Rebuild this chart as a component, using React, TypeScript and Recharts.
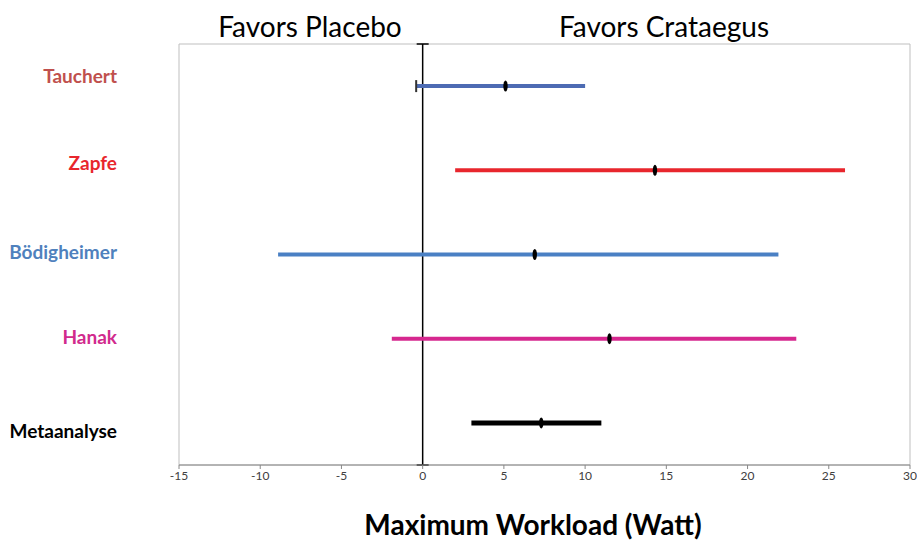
import {
  ScatterChart,
  Scatter,
  XAxis,
  YAxis,
  ReferenceLine,
  ReferenceArea,
} from 'recharts'

const studies = ['Tauchert', 'Zapfe', 'Bödigheimer', 'Hanak', 'Metaanalyse']
const lower = [-0.4, 2.0, -8.9, -1.9, 3.0]
const estimate = [5.1, 14.3, 6.9, 11.5, 7.3]
const upper = [10.0, 26.0, 21.9, 23.0, 11.0]
const xTicks = [-15, -10, -5, 0, 5, 10, 15, 20, 25, 30]

const labelColors = ['#C0504D', '#E8262D', '#4F81BD', '#D12A8D', '#000000']
const lineColors = ['#4D6BB3', '#E8262D', '#4A80C4', '#D6288F', '#000000']
const lineWidths = [4, 4, 4, 4, 5]
const leftCap = [true, false, false, false, false]
// labels in the original sit a little off their bars
const labelShift = [-9, -6, -2, -1, 9]

const FONT = 'Lato, "Open Sans", sans-serif'

const StudyTick = ({ x, y, payload }: any) => {
  const i = payload.value - 1
  return (
    <text x={x} y={y + labelShift[i]} dy={6} textAnchor="end" fill={labelColors[i]} fontSize={19} fontWeight={700} fontFamily={FONT}>
      {studies[i]}
    </text>
  )
}

const EndShape = ({ cx, cy, payload }: any) => {
  if (!payload.cap) return null
  return <line x1={cx} x2={cx} y1={cy - 6} y2={cy + 6} stroke="#333" strokeWidth={2} />
}

const EstimateShape = ({ cx, cy }: any) => <ellipse cx={cx} cy={cy} rx={2.2} ry={5.5} fill="#000" />

const ZeroLine = ({ x1, y1, x2, y2 }: any) => (
  <g stroke="#000" strokeWidth={1.5}>
    <line x1={x1} x2={x2} y1={y1} y2={y2} />
    <line x1={x1 - 6} x2={x1 + 6} y1={y1} y2={y1} />
    <line x1={x2 - 6} x2={x2 + 6} y1={y2} y2={y2} />
  </g>
)

export default function App() {
  const estimates = studies.map((s, i) => ({ x: estimate[i], y: i + 1 }))

  return (
    <div style={{ position: 'absolute', left: 0, top: 0, width: 917, height: 540, background: '#fff', fontFamily: FONT }}>
      <div style={{ position: 'absolute', left: 190, width: 240, top: 9, textAlign: 'center', fontSize: 28, lineHeight: '34px', color: '#000' }}>
        Favors Placebo
      </div>
      <div style={{ position: 'absolute', left: 524, width: 280, top: 9, textAlign: 'center', fontSize: 28, lineHeight: '34px', color: '#000' }}>
        Favors Crataegus
      </div>
      <div style={{ position: 'absolute', left: 283, width: 500, top: 507, textAlign: 'center', fontSize: 28, lineHeight: '34px', fontWeight: 700, color: '#000' }}>
        Maximum Workload (Watt)
      </div>
      <ScatterChart width={917} height={540} margin={{ top: 44, right: 7, bottom: 45, left: 9 }}>
        <ReferenceArea x1={-15} x2={30} y1={0.5} y2={5.5} fill="none" stroke="#BFBFBF" strokeWidth={1} ifOverflow="visible" />
        <XAxis
          type="number"
          dataKey="x"
          domain={[-15, 30]}
          ticks={xTicks}
          interval={0}
          height={30}
          axisLine={{ stroke: '#888' }}
          tickLine={{ stroke: '#888' }}
          tickSize={4}
          tick={{ fontSize: 12, fill: '#404040', fontFamily: FONT }}
        />
        <YAxis
          type="number"
          dataKey="y"
          domain={[0.5, 5.5]}
          reversed
          ticks={[1, 2, 3, 4, 5]}
          interval={0}
          width={170}
          axisLine={false}
          tickLine={false}
          tickSize={0}
          tickMargin={62}
          tick={<StudyTick />}
        />
        <ReferenceLine x={0} stroke="#000" strokeWidth={1.5} shape={<ZeroLine />} ifOverflow="visible" />
        {studies.map((s, i) => (
          <Scatter
            key={s}
            name={s}
            data={[
              { x: lower[i], y: i + 1, cap: leftCap[i] },
              { x: upper[i], y: i + 1, cap: false },
            ]}
            fill={lineColors[i]}
            line={{ stroke: lineColors[i], strokeWidth: lineWidths[i] }}
            shape={<EndShape />}
            isAnimationActive={false}
          />
        ))}
        <Scatter name="estimate" data={estimates} shape={<EstimateShape />} isAnimationActive={false} />
      </ScatterChart>
    </div>
  )
}
